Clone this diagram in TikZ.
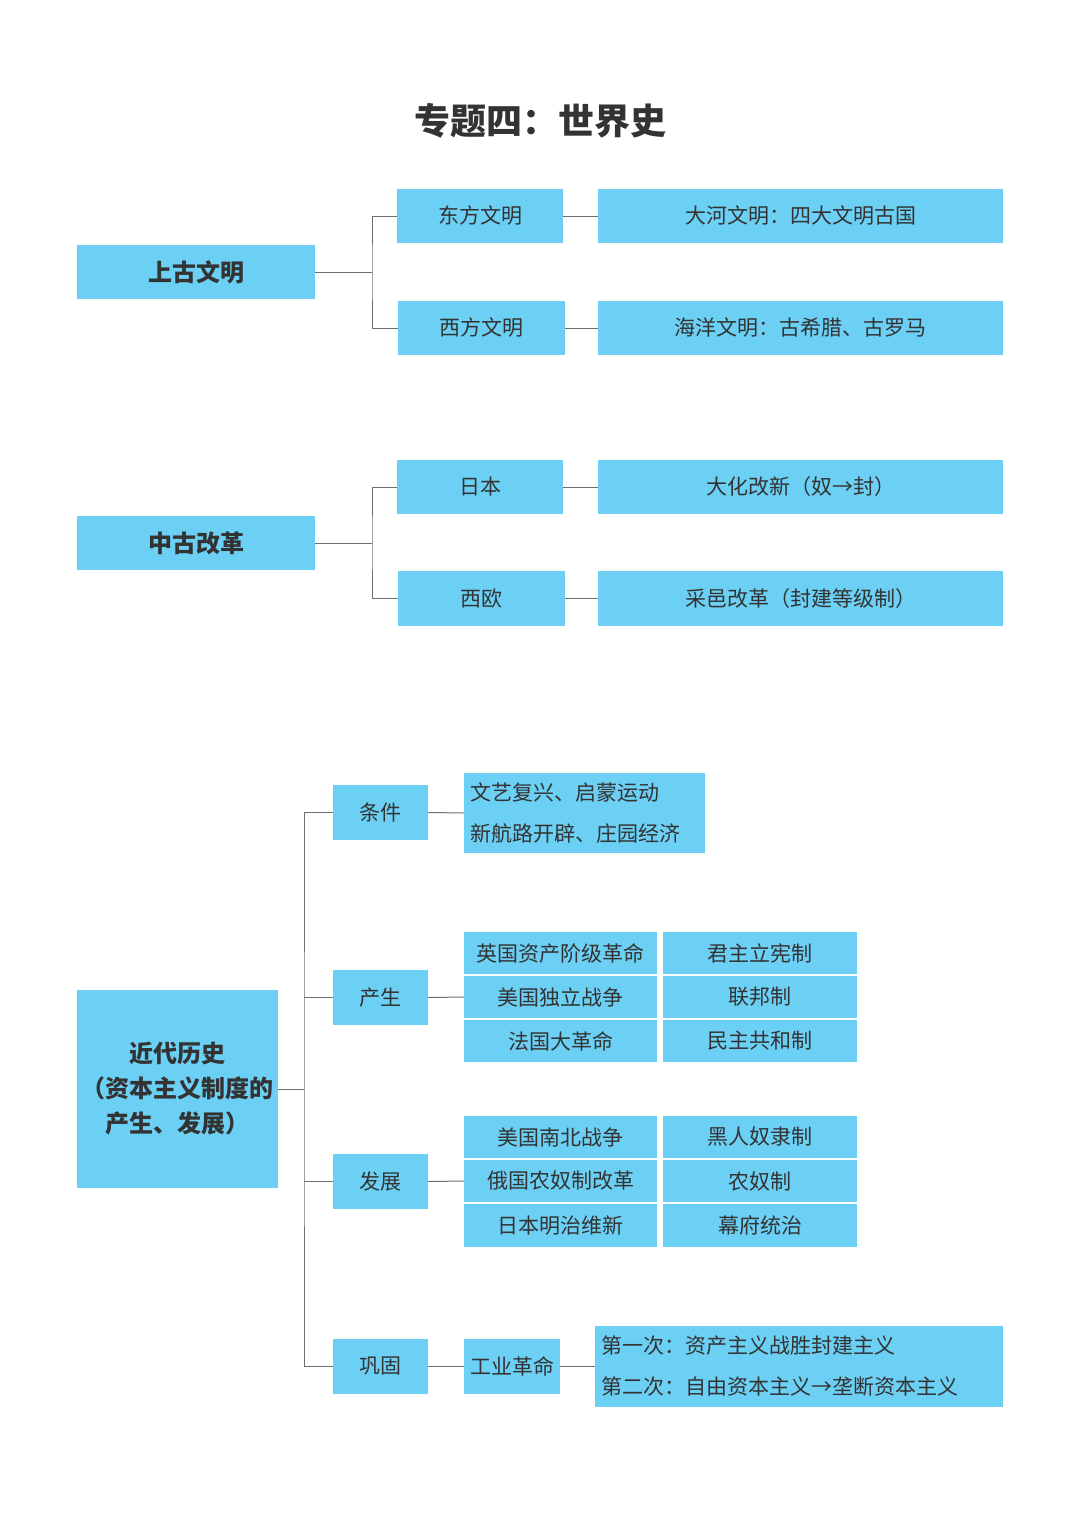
\documentclass[tikz,border=0pt]{standalone}
\usepackage{fontspec}
\setmainfont{Noto Sans CJK SC}
\definecolor{boxblue}{HTML}{6CCFF4}
\definecolor{txt}{HTML}{333333}
\definecolor{ln}{HTML}{6E6E6E}
\begin{document}
\begin{tikzpicture}[x=1pt,y=-1pt,
  box/.style={fill=boxblue, inner sep=0pt, outer sep=0pt, text=txt, anchor=north west,
    font=\fontsize{21}{25}\selectfont},
  mainbox/.style={box, font=\fontsize{24}{35}\selectfont\bfseries},
  leftbox/.style={box, align=left, inner xsep=6pt},
  conn/.style={draw=ln, line width=1pt}]
\useasboundingbox[fill=white] (0,0) rectangle (1080,1527);

% title
\node[text=txt, font=\fontsize{36}{42}\selectfont\bfseries] (title) at (540,121) {专题四：世界史};

% section 1
\node[mainbox, minimum width=238pt, minimum height=54pt] (up) at (77,245) {上古文明};
\node[box, minimum width=166pt, minimum height=54pt] (east) at (397,189) {东方文明};
\node[box, minimum width=167pt, minimum height=54pt] (west) at (398,301) {西方文明};
\node[box, minimum width=405pt, minimum height=54pt] (river) at (598,189) {大河文明：四大文明古国};
\node[box, minimum width=405pt, minimum height=54pt] (ocean) at (598,301) {海洋文明：古希腊、古罗马};
\coordinate (j1) at (372,272);
\draw[conn] (east.west) -| (j1) |- (west.west);
\draw[conn] (up.east) -- (j1);
\draw[conn] (east.east) -- (river.west);
\draw[conn] (west.east) -- (ocean.west);

% section 2
\node[mainbox, minimum width=238pt, minimum height=54pt] (mid) at (77,516) {中古改革};
\node[box, minimum width=166pt, minimum height=54pt] (japan) at (397,460) {日本};
\node[box, minimum width=167pt, minimum height=55pt] (weu) at (398,571) {西欧};
\node[box, minimum width=405pt, minimum height=54pt] (taika) at (598,460) {大化改新（奴→封）};
\node[box, minimum width=405pt, minimum height=55pt] (caiyi) at (598,571) {采邑改革（封建等级制）};
\coordinate (j2) at (372,543);
\draw[conn] (japan.west) -| (j2) |- (weu.west);
\draw[conn] (mid.east) -- (j2);
\draw[conn] (japan.east) -- (taika.west);
\draw[conn] (weu.east) -- (caiyi.west);

% section 3
\node[mainbox, minimum width=201pt, minimum height=198pt, align=center] (modern) at (77,990)
  {近代历史\\（资本主义制度的\\产生、发展）};
\node[box, minimum width=95pt, minimum height=55pt] (tj) at (333,785) {条件};
\node[box, minimum width=95pt, minimum height=55pt] (cs) at (333,970) {产生};
\node[box, minimum width=95pt, minimum height=55pt] (fz) at (333,1154) {发展};
\node[box, minimum width=95pt, minimum height=55pt] (gg) at (333,1339) {巩固};
\coordinate (j3) at (304,1089);
\draw[conn] (tj.west) -| (j3) |- (gg.west);
\draw[conn] (modern.east) -- (j3);
\draw[conn] (cs.west) -- (cs.west -| j3);
\draw[conn] (fz.west) -- (fz.west -| j3);

% 条件
\node[leftbox, text width=229pt, minimum height=80pt, font=\fontsize{21}{41}\selectfont] (tjtext) at (464,773)
  {文艺复兴、启蒙运动\\新航路开辟、庄园经济};
\draw[conn] (tj.east) -- (tjtext.west);

% 产生 table
\node[box, minimum width=193pt, minimum height=42pt] (csa) at (464,932) {英国资产阶级革命};
\node[box, minimum width=193pt, minimum height=42pt] (csb) at (464,976) {美国独立战争};
\node[box, minimum width=193pt, minimum height=42pt] (csc) at (464,1020) {法国大革命};
\node[box, minimum width=194pt, minimum height=42pt] (csd) at (663,932) {君主立宪制};
\node[box, minimum width=194pt, minimum height=42pt] (cse) at (663,976) {联邦制};
\node[box, minimum width=194pt, minimum height=42pt] (csf) at (663,1020) {民主共和制};
\draw[conn] (cs.east) -- (csb.west);

% 发展 table
\node[box, minimum width=193pt, minimum height=42pt] (fza) at (464,1116) {美国南北战争};
\node[box, minimum width=193pt, minimum height=42pt] (fzb) at (464,1160) {俄国农奴制改革};
\node[box, minimum width=193pt, minimum height=43pt] (fzc) at (464,1204) {日本明治维新};
\node[box, minimum width=194pt, minimum height=42pt] (fzd) at (663,1116) {黑人奴隶制};
\node[box, minimum width=194pt, minimum height=42pt] (fze) at (663,1160) {农奴制};
\node[box, minimum width=194pt, minimum height=43pt] (fzf) at (663,1204) {幕府统治};
\draw[conn] (fz.east) -- (fzb.west);

% 巩固
\node[box, minimum width=96pt, minimum height=55pt] (gy) at (464,1339) {工业革命};
\node[leftbox, text width=396pt, minimum height=81pt, font=\fontsize{21}{41}\selectfont] (gytext) at (595,1326)
  {第一次：资产主义战胜封建主义\\第二次：自由资本主义→垄断资本主义};
\draw[conn] (gg.east) -- (gy.west);
\draw[conn] (gy.east) -- (gytext.west);
\end{tikzpicture}
\end{document}
